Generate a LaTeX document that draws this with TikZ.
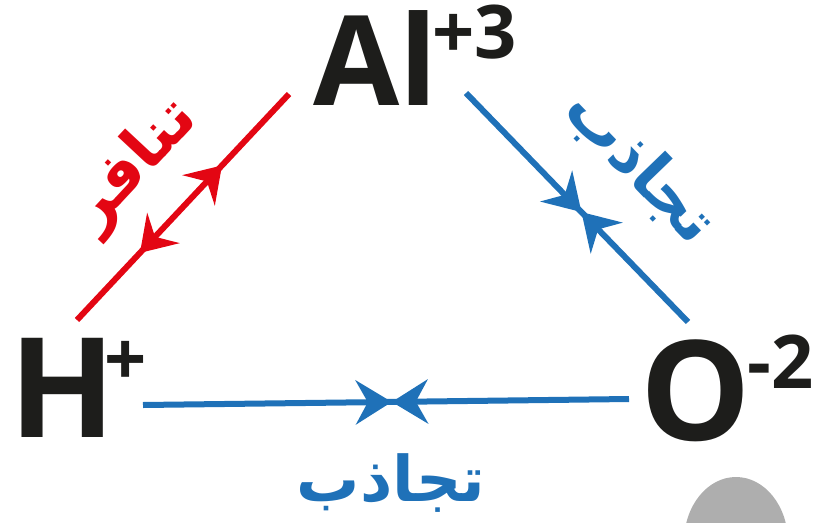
\documentclass[tikz,border=0pt]{standalone}
\usepackage{fontspec}
\setmainfont{Open Sans}
\newfontfamily\arabicfont[Script=Arabic]{DejaVu Sans}
\TeXXeTstate=1
\usetikzlibrary{arrows.meta,decorations.markings}
\definecolor{ionblack}{HTML}{1D1D1B}
\definecolor{repred}{HTML}{E30613}
\definecolor{attblue}{HTML}{1F71B8}
\definecolor{blobgray}{HTML}{AEAEAE}
\tikzset{
	ion/.style={text=ionblack,font=\bfseries\fontsize{139}{139}\selectfont,inner sep=0pt,anchor=base west},
	charge/.style={text=ionblack,font=\bfseries\fontsize{74}{74}\selectfont,inner sep=0pt,anchor=base west},
	arlabel/.style={font=\arabicfont\bfseries\fontsize{63}{63}\selectfont,inner sep=0pt},
	repulse/.style={repred,line width=6pt,postaction={decorate},decoration={markings,
		mark=at position 0.297 with {\arrowreversed{Stealth[length=34pt,width=44pt,inset=12pt]}},
		mark=at position 0.684 with {\arrow{Stealth[length=34pt,width=44pt,inset=12pt]}}}},
	attract/.style={attblue,line width=6pt,postaction={decorate},decoration={markings,
		mark=at position #1 with {\arrow{Stealth[length=36pt,width=44pt,inset=12pt]}\arrowreversed{Stealth[length=36pt,width=44pt,inset=12pt]}}}}
}
\begin{document}
\begin{tikzpicture}[x=1pt,y=-1pt]
	\useasboundingbox (0,0) rectangle (816,522);
	%ions
	\node[ion,font=\bfseries\fontsize{125}{125}\selectfont] (al) at (313,105) {Al};
	\node[charge] (alcharge) at (432,58) {+3};
	\node[ion] (h) at (9,437) {H};
	\node[charge] (hcharge) at (104,385) {+};
	\node[ion] (o) at (640,440) {O};
	\node[charge] (ocharge) at (747,388) {-2};

	%line ends
	\coordinate (hAl) at (77,320);
	\coordinate (alH) at (289,94);
	\coordinate (alO) at (466,93);
	\coordinate (oAl) at (688,322);
	\coordinate (hO) at (143,405);
	\coordinate (oH) at (629,399);

	%forces
	\draw[repulse] (hAl) -- (alH); %H - Al
	\draw[attract=0.52] (alO) -- (oAl); %Al - O
	\draw[attract=0.512] (hO) -- (oH); %H - O

	%labels
	\node[arlabel,text=repred,rotate=47] (repulsion) at (135,165) {\beginR تنافر\endR};
	\node[arlabel,text=attblue,rotate=-46] (attractAO) at (640,167) {\beginR تجاذب\endR};
	\node[arlabel,text=attblue] (attractHO) at (391,483) {\beginR تجاذب\endR};

	%blob
	\fill[blobgray] (736,542) ellipse [x radius=52pt,y radius=65pt];
\end{tikzpicture}
\end{document}
